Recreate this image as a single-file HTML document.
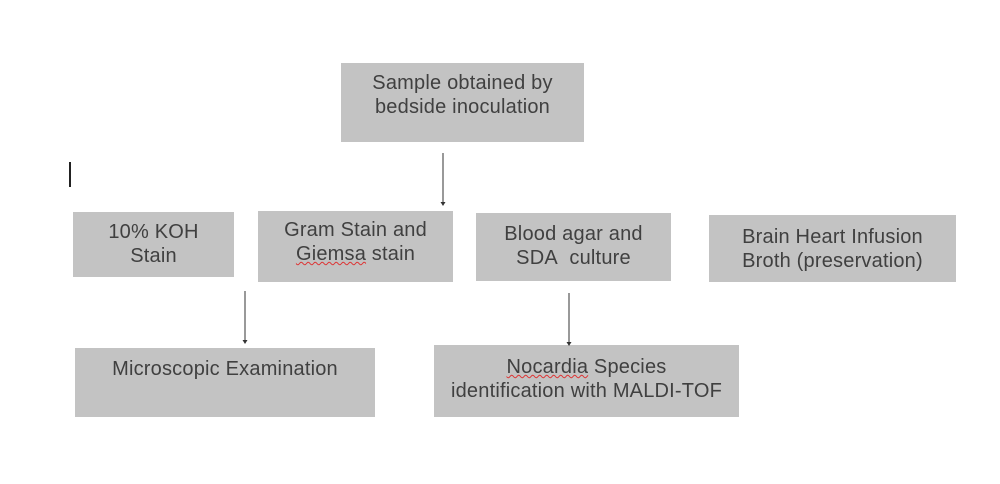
<!DOCTYPE html>
<html><head><style>
body{margin:0;width:1000px;height:484px;background:#fff;position:relative;overflow:hidden;font-family:"Liberation Sans",sans-serif;}
.b{position:absolute;background:#c3c3c3;color:#404040;font-size:20px;letter-spacing:0.2px;line-height:24px;text-align:center;box-sizing:border-box;white-space:nowrap;}
.u{text-decoration:underline wavy #d33;text-decoration-thickness:1px;}
svg{position:absolute;left:0;top:0;}
</style></head><body>
<div class="b" style="left:341px;top:63px;width:243px;height:79px;padding-top:8px">Sample obtained by<br>bedside inoculation</div>
<div class="b" style="left:73px;top:212px;width:161px;height:65px;padding-top:8px">10% KOH<br>Stain</div>
<div class="b" style="left:258px;top:211px;width:195px;height:71px;padding-top:7px">Gram Stain and<br><span class="u">Giemsa</span> stain</div>
<div class="b" style="left:476px;top:213px;width:195px;height:68px;padding-top:9px">Blood agar and<br>SDA&nbsp; culture</div>
<div class="b" style="left:709px;top:215px;width:247px;height:67px;padding-top:10px">Brain Heart Infusion<br>Broth (preservation)</div>
<div class="b" style="left:75px;top:348px;width:300px;height:69px;padding-top:9px">Microscopic Examination</div>
<div class="b" style="left:434px;top:345px;width:305px;height:72px;padding-top:10px"><span class="u">Nocardia</span> Species<br>identification with MALDI-TOF</div>
<svg width="1000" height="484">
<line x1="70" y1="162" x2="70" y2="187" stroke="#222" stroke-width="2"/>
<g stroke="#333" stroke-width="1"><line x1="443" y1="153" x2="443" y2="203"/><line x1="245" y1="291" x2="245" y2="341"/><line x1="569" y1="293" x2="569" y2="343"/></g>
<g fill="#333"><polygon points="440.5,202 445.5,202 443,206"/><polygon points="242.5,340 247.5,340 245,344"/><polygon points="566.5,342 571.5,342 569,346"/></g>
</svg>
</body></html>
